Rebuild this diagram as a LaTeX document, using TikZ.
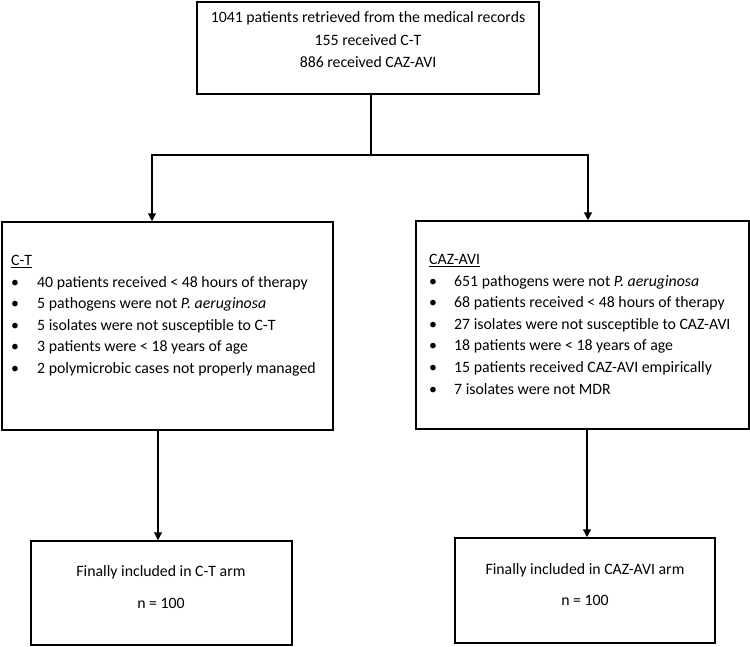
\documentclass[tikz,border=0pt]{standalone}
\usepackage{fontspec}
\setmainfont{Carlito}
\usetikzlibrary{positioning,arrows.meta}
\newcommand{\itm}[2]{\makebox[#1][l]{\textbullet}#2}

\begin{document}
\begin{tikzpicture}[x=1pt,y=-1pt,
	frame/.style={draw=black,line width=1.5pt,inner sep=0pt},
	txt/.style={inner sep=0pt,font=\fontsize{15.8pt}{21.6pt}\selectfont},
	link/.style={line width=1.2pt},
	arrow/.style={line width=1.2pt,-{Triangle[width=8pt,length=8pt]}}]
	\useasboundingbox (0,0) rectangle (750,646);
	% boxes
	\node[frame,minimum width=342pt,minimum height=92pt] (recordsbox) at (368,48) {};
	\node[frame,minimum width=331pt,minimum height=208pt] (ctbox) at (167.5,326) {};
	\node[frame,minimum width=333pt,minimum height=208pt] (cazbox) at (582.5,325) {};
	\node[frame,minimum width=261pt,minimum height=104pt] (ctfinalbox) at (161.5,593) {};
	\node[frame,minimum width=260pt,minimum height=105pt] (cazfinalbox) at (585,590.5) {};
	% texts
	\node[txt,align=center,font=\fontsize{15.8pt}{22.5pt}\selectfont] (records) at (368,40)
		{1041 patients retrieved from the medical records\\155 received C-T\\886 received CAZ-AVI};
	\node[txt,align=left,anchor=north west] (ctlist) at (11,255)
		{\underline{C-T}\\
		\itm{26pt}{40 patients received < 48 hours of therapy}\\
		\itm{26pt}{5 pathogens were not \textit{P. aeruginosa}}\\
		\itm{26pt}{5 isolates were not susceptible to C-T}\\
		\itm{26pt}{3 patients were < 18 years of age}\\
		\itm{26pt}{2 polymicrobic cases not properly managed}};
	\node[txt,align=left,anchor=north west] (cazlist) at (429,254)
		{\underline{CAZ-AVI}\\
		\itm{25pt}{651 pathogens were not \textit{P. aeruginosa}}\\
		\itm{25pt}{68 patients received < 48 hours of therapy}\\
		\itm{25pt}{27 isolates were not susceptible to CAZ-AVI}\\
		\itm{25pt}{18 patients were < 18 years of age}\\
		\itm{25pt}{15 patients received CAZ-AVI empirically}\\
		\itm{25pt}{7 isolates were not MDR}};
	\node[txt,align=center] (ctfinal) at (161,587) {Finally included in C-T arm\\[10pt]n = 100};
	\node[txt,align=center] (cazfinal) at (585,584.5) {Finally included in CAZ-AVI arm\\[10pt]n = 100};
	% connectors
	\coordinate (fork) at (371,155);
	\coordinate (ctturn) at (152,155);
	\coordinate (cazturn) at (588,155);
	\draw[link] (recordsbox.south -| fork) -- (fork);
	\draw[arrow] (fork) -- (ctturn) -- (ctturn |- ctbox.north);
	\draw[arrow] (fork) -- (cazturn) -- (cazturn |- cazbox.north);
	\draw[arrow] ([xshift=-9.5pt]ctbox.south) -- ([xshift=-9.5pt]ctbox.south |- ctfinalbox.north);
	\draw[arrow] ([xshift=4.5pt]cazbox.south) -- ([xshift=4.5pt]cazbox.south |- cazfinalbox.north);
\end{tikzpicture}
\end{document}
